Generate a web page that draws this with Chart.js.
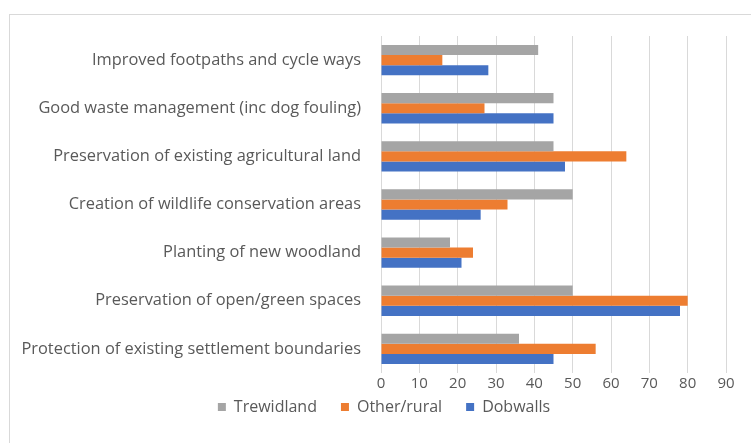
<!DOCTYPE html>
<html>
<head>
<meta charset="utf-8">
<script src="https://cdn.jsdelivr.net/npm/chart.js@4/dist/chart.umd.min.js"></script>
<style>
  html, body { margin: 0; padding: 0; background: #fff; }
  #wrap { position: relative; width: 751px; height: 443px; }
  #frame { position: absolute; left: 9px; top: 14px; right: -5px; bottom: -5px;
           border-left: 1px solid #d9d9d9; border-top: 1px solid #d9d9d9; }
  canvas { position: absolute; left: 0; top: 0; }
</style>
</head>
<body>
<div id="wrap">
  <div id="frame"></div>
  <canvas id="myChart" width="751" height="443"></canvas>
</div>
<script>
// categories, top to bottom
const categories = [
  'Improved footpaths and cycle ways',
  'Good waste management (inc dog fouling)',
  'Preservation of existing agricultural land',
  'Creation of wildlife conservation areas',
  'Planting of new woodland',
  'Preservation of open/green spaces',
  'Protection of existing settlement boundaries'
];
const trewidland = [41, 45, 45, 50, 18, 50, 36];
const otherRural = [16, 27, 64, 33, 24, 80, 56];
const dobwalls   = [28, 45, 48, 26, 21, 78, 45];
const xTicks = [0, 10, 20, 30, 40, 50, 60, 70, 80, 90];

const textColor = '#595959';
const fontFamily = '"Open Sans", "Liberation Sans", sans-serif';

// move the legend a bit: closer under the tick labels and centred like the original
const legendShift = {
  id: 'legendShift',
  afterLayout(chart) {
    const lg = chart.legend;
    if (!lg) return;
    const top = chart.chartArea.bottom + 2;
    lg.bottom = top + lg.height;
    lg.top = top;
    lg.left += 21;
    lg.right += 21;
  }
};

new Chart(document.getElementById('myChart').getContext('2d'), {
  type: 'bar',
  data: {
    labels: categories,
    datasets: [
      { label: 'Trewidland', data: trewidland, backgroundColor: '#a5a5a5' },
      { label: 'Other/rural', data: otherRural, backgroundColor: '#ed7d31' },
      { label: 'Dobwalls', data: dobwalls, backgroundColor: '#4472c4' }
    ]
  },
  options: {
    indexAxis: 'y',
    responsive: false,
    animation: false,
    datasets: {
      bar: { barPercentage: 1.0, categoryPercentage: 0.63 }
    },
    layout: { padding: { left: 0, right: 25, top: 36, bottom: -2 } },
    scales: {
      x: {
        min: 0,
        max: 90,
        afterBuildTicks: (axis) => { axis.ticks = xTicks.map(v => ({ value: v })); },
        grid: { color: '#d9d9d9', drawTicks: false },
        border: { display: false },
        ticks: { color: textColor, font: { family: fontFamily, size: 15 }, padding: 2 }
      },
      y: {
        afterFit: (axis) => { axis.width = 381; },
        grid: { display: false },
        border: { display: false },
        ticks: { color: textColor, font: { family: fontFamily, size: 16.4 }, padding: 12 }
      }
    },
    plugins: {
      legend: {
        position: 'bottom',
        labels: {
          color: textColor,
          font: { family: fontFamily, size: 16 },
          boxWidth: 8,
          boxHeight: 8,
          padding: 24
        }
      },
      tooltip: { enabled: false }
    }
  },
  plugins: [legendShift]
});
</script>
</body>
</html>
